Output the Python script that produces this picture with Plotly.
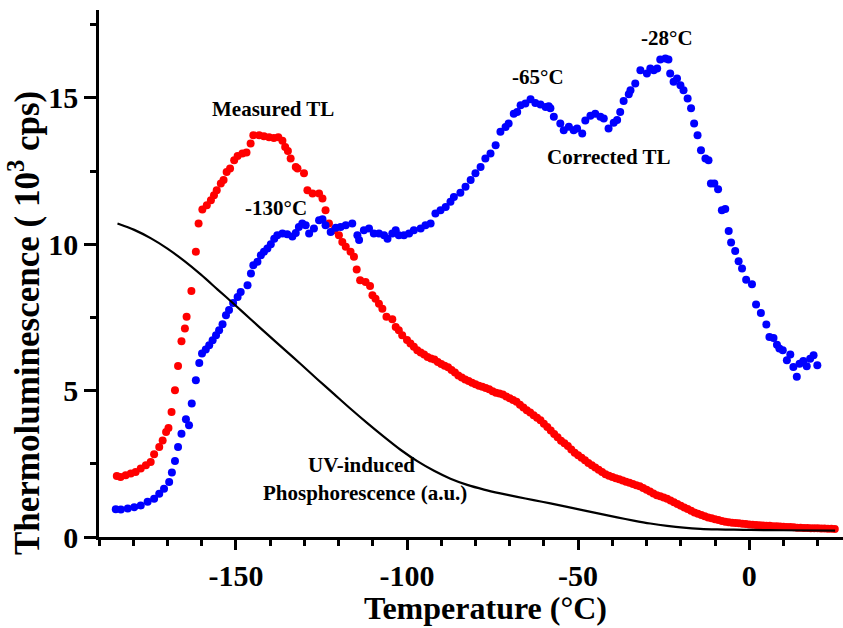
import plotly.graph_objects as go

# Measured thermoluminescence glow curve (10^3 cps) vs temperature (deg C)
MEASURED_T = [
    -184.8, -183.7, -182.2, -180.7, -179.3, -177.8, -176.3, -174.9, -173.9, -172.4,
    -171.4, -170.4, -169.7, -168.8, -167.8, -166.9, -165.9, -164.9, -164.4, -163.0,
    -161.7, -160.9, -159.8, -158.5, -157.3, -156.4, -155.6, -154.4, -153.6, -152.7,
    -151.7, -150.5, -149.5, -148.1, -146.9, -145.7, -144.9, -143.2, -141.8, -140.3,
    -138.9, -137.6, -136.4, -135.6, -134.8, -134.0, -132.5, -132.0, -130.1, -129.1,
    -127.6, -125.7, -124.7, -123.8, -122.8, -121.3, -119.9, -118.9, -117.9, -116.5,
    -115.5, -114.7, -113.7, -112.1, -110.8, -110.1, -109.2, -108.2, -107.2, -106.0,
    -104.3, -103.3, -102.4, -101.4,
    -100, -99, -98, -97, -96, -95, -94, -93, -92, -91, -90, -89, -88, -87, -86, -85,
    -84, -83, -82, -81, -80, -79, -78, -77, -76, -75, -74, -73, -72, -71, -70, -69,
    -68, -67, -66, -65, -64, -63, -62, -61, -60, -59, -58, -57, -56, -55, -54, -53,
    -52, -51, -50, -49, -48, -47, -46, -45, -44, -43, -42, -41, -40, -39, -38, -37,
    -36, -35, -34, -33, -32, -31, -30, -29, -28, -27, -26, -25, -24, -23, -22, -21,
    -20, -19, -18, -17, -16, -15, -14, -13, -12, -11, -10, -9, -8, -7, -6, -5,
    -4, -3, -2, -1, 0, 1, 2, 3, 4, 5, 6, 7, 8, 9, 10, 11,
    12, 13, 14, 15, 16, 17, 18, 19, 20, 21, 22, 23, 24, 25,
]
MEASURED_TL = [
    2.08, 2.05, 2.11, 2.17, 2.22, 2.34, 2.45, 2.56, 2.83, 3.07,
    3.30, 3.59, 3.72, 4.27, 5.01, 5.84, 6.69, 7.12, 7.52, 8.40,
    9.74, 10.71, 11.19, 11.33, 11.50, 11.67, 11.84, 12.07, 12.19, 12.47,
    12.59, 12.87, 13.01, 13.10, 13.13, 13.44, 13.72, 13.72, 13.69, 13.65,
    13.63, 13.65, 13.53, 13.32, 13.18, 12.93, 12.64, 12.59, 12.42, 11.84,
    11.73, 11.73, 11.56, 11.16, 10.71, 10.48, 10.31, 10.08, 9.91, 9.74,
    9.57, 9.14, 8.77, 8.71, 8.57, 8.26, 8.14, 7.97, 7.80, 7.52,
    7.44, 7.17, 7.06, 6.89,
    6.73, 6.61, 6.50, 6.38, 6.30, 6.23, 6.15, 6.10, 6.06, 5.98, 5.91, 5.85, 5.80, 5.70, 5.62, 5.52,
    5.45, 5.38, 5.33, 5.27, 5.22, 5.17, 5.13, 5.09, 5.05, 4.98, 4.93, 4.90, 4.87, 4.80, 4.74, 4.68,
    4.62, 4.52, 4.42, 4.33, 4.25, 4.16, 4.07, 3.99, 3.87, 3.76, 3.64, 3.52, 3.41, 3.29, 3.20, 3.11,
    2.99, 2.88, 2.79, 2.71, 2.62, 2.53, 2.45, 2.37, 2.30, 2.22, 2.14, 2.09, 2.05, 2.01, 1.97, 1.93,
    1.89, 1.85, 1.81, 1.77, 1.73, 1.67, 1.61, 1.55, 1.49, 1.43, 1.39, 1.35, 1.31, 1.25, 1.19, 1.13,
    1.07, 1.01, 0.96, 0.90, 0.84, 0.79, 0.75, 0.71, 0.67, 0.64, 0.61, 0.58, 0.55, 0.52, 0.50, 0.49,
    0.48, 0.47, 0.45, 0.44, 0.43, 0.42, 0.41, 0.40, 0.39, 0.38, 0.38, 0.37, 0.37, 0.36, 0.35, 0.34,
    0.34, 0.33, 0.32, 0.32, 0.31, 0.31, 0.30, 0.30, 0.30, 0.29, 0.29, 0.28, 0.28, 0.27,
]

# Glow curve after correction for the phosphorescence background
CORRECTED_T = [
    -185.1, -183.6, -181.6, -179.7, -177.8, -175.8, -173.9, -172.4, -171.0, -169.5,
    -168.7, -167.8, -166.9, -165.9, -164.6, -163.7, -162.9, -161.7, -160.7, -159.9,
    -158.8, -157.8, -156.8, -155.8, -154.9, -153.9, -152.9, -152.0, -150.8, -149.5,
    -148.6, -146.6, -145.6, -144.9, -143.7, -142.7, -141.8, -140.8, -139.8, -138.8,
    -137.9, -136.4, -135.0, -133.5, -132.5, -131.6, -130.6, -129.6, -128.6, -127.2,
    -125.7, -124.7, -123.8, -122.3, -120.8, -119.4, -117.9, -116.0, -114.5, -114.0,
    -112.6, -111.1, -109.7, -108.2, -106.7, -105.7, -104.3, -103.3, -102.4, -100.9,
    -99.4, -98.0, -96.0, -94.6, -93.1, -91.7, -90.2, -88.7, -87.3, -86.3,
    -84.4, -82.9, -81.4, -80.0, -78.5, -77.1, -75.6, -74.1, -72.7, -71.2,
    -70.3, -68.8, -67.8, -66.8, -65.4, -63.9, -62.5, -61.0, -59.5, -58.6,
    -58.1, -57.1, -55.2, -54.2, -52.7, -51.3, -50.3, -48.8, -47.9, -46.4,
    -45.0, -43.5, -42.5, -41.1, -39.6, -38.6, -37.7, -36.7, -35.2, -34.7,
    -33.3, -31.8, -29.9, -28.9, -27.9, -26.9, -26.0, -24.5, -23.6, -23.1,
    -22.1, -21.1, -20.1, -19.2, -18.0, -17.0, -16.1, -15.1, -14.1, -12.8,
    -11.9, -11.2, -10.2, -9.1, -8.0, -7.0, -6.0, -5.3, -4.1, -3.1,
    -2.1, -0.9, 0.8, 2.0, 3.4, 5.0, 5.9, 7.1, 8.1, 8.8,
    9.8, 11.0, 12.0, 12.9, 13.9, 14.7, 15.8, 16.8, 17.8, 18.8,
    19.9,
]
CORRECTED_TL = [
    0.95, 0.94, 0.97, 1.02, 1.08, 1.20, 1.31, 1.48, 1.65, 1.88,
    2.20, 2.60, 3.07, 3.53, 4.02, 3.82, 4.56, 5.35, 5.94, 6.27,
    6.40, 6.55, 6.72, 6.89, 7.06, 7.27, 7.57, 7.75, 7.99, 8.20,
    8.37, 8.60, 9.00, 9.28, 9.40, 9.62, 9.74, 9.85, 10.00, 10.19,
    10.31, 10.37, 10.34, 10.26, 10.38, 10.59, 10.71, 10.65, 10.37, 10.54,
    10.82, 10.85, 10.65, 10.42, 10.56, 10.59, 10.65, 10.71, 10.31, 10.14,
    10.48, 10.54, 10.37, 10.37, 10.31, 10.19, 10.37, 10.48, 10.31, 10.31,
    10.37, 10.48, 10.54, 10.65, 10.71, 11.05, 11.16, 11.27, 11.45, 11.61,
    11.76, 11.96, 12.19, 12.42, 12.64, 12.93, 13.10, 13.38, 13.84, 14.00,
    14.12, 14.46, 14.52, 14.75, 14.81, 14.95, 14.82, 14.77, 14.69, 14.71,
    14.64, 14.35, 14.12, 13.89, 14.01, 13.89, 13.95, 13.78, 14.23, 14.39,
    14.46, 14.35, 14.29, 13.95, 14.15, 14.24, 14.52, 14.89, 15.12, 15.26,
    15.49, 15.94, 15.83, 16.00, 15.94, 16.00, 16.31, 16.34, 16.31, 15.83,
    15.55, 15.66, 15.43, 15.26, 14.98, 14.64, 14.12, 13.72, 13.21, 12.93,
    12.87, 12.07, 12.07, 11.88, 11.16, 11.20, 10.45, 10.06, 9.77, 9.42,
    9.17, 8.79, 8.63, 7.94, 7.65, 7.26, 6.83, 6.80, 6.57, 6.44,
    6.38, 6.04, 6.23, 5.81, 5.47, 5.92, 6.01, 5.83, 6.09, 6.21,
    5.87,
]

# UV-induced phosphorescence (arbitrary units)
PHOS_T = [
    -184.6, -179.7, -174.8, -170.0, -165.1, -160.2, -155.4, -150.5, -145.6, -140.7,
    -135.8, -131.0, -126.2, -121.3, -116.5, -111.6, -106.7, -101.9, -97.0, -92.1,
    -87.3, -82.4, -77.5, -72.7, -67.8, -63.0, -58.1, -53.2, -48.4, -43.5,
    -38.6, -33.8, -28.9, -24.0, -19.2, -14.3, -9.4, -4.5, 0.3, 10.0,
    25.1,
]
PHOS_AU = [
    10.71, 10.49, 10.20, 9.85, 9.43, 8.96, 8.46, 7.95, 7.43, 6.91,
    6.40, 5.90, 5.39, 4.88, 4.38, 3.89, 3.42, 2.98, 2.59, 2.26,
    1.99, 1.78, 1.62, 1.49, 1.37, 1.26, 1.15, 1.03, 0.91, 0.79,
    0.67, 0.56, 0.46, 0.38, 0.32, 0.28, 0.26, 0.25, 0.24, 0.23,
    0.22,
]

X_TICKS = [-150, -100, -50, 0]
X_TICK_TEXT = ["-150", "-100", "-50", "0"]
Y_TICKS = [0, 5, 10, 15]
Y_TICK_TEXT = ["0", "5", "10", "15"]

assert len(MEASURED_T) == len(MEASURED_TL)
assert len(CORRECTED_T) == len(CORRECTED_TL)
assert len(PHOS_T) == len(PHOS_AU)

FONT = "Liberation Serif"
LW = 2.5

fig = go.Figure()
fig.add_trace(go.Scatter(
    x=MEASURED_T, y=MEASURED_TL, mode="markers", name="Measured TL",
    marker=dict(color="#ff0000", size=8, line=dict(width=0)),
))
fig.add_trace(go.Scatter(
    x=CORRECTED_T, y=CORRECTED_TL, mode="markers", name="Corrected TL",
    marker=dict(color="#0000ff", size=8, line=dict(width=0)),
))
fig.add_trace(go.Scatter(
    x=PHOS_T, y=PHOS_AU, mode="lines", name="UV-induced phosphorescence",
    line=dict(color="black", width=2.2, shape="spline", smoothing=0.8),
))

tick_font = dict(family=FONT, size=30, color="black", weight="bold")

fig.update_layout(
    width=843, height=628,
    margin=dict(l=99, r=0, t=10, b=91),
    paper_bgcolor="white", plot_bgcolor="white",
    showlegend=False,
    xaxis=dict(
        range=[-190, 27.4], showgrid=False, zeroline=False,
        showline=True, linecolor="black", linewidth=LW,
        tickmode="array", tickvals=X_TICKS, ticktext=X_TICK_TEXT,
        ticks="outside", ticklen=10, tickwidth=LW, tickcolor="black",
        tickfont=tick_font,
        minor=dict(tickmode="linear", tick0=0, dtick=10, ticks="outside",
                   ticklen=6, tickwidth=LW, tickcolor="black", showgrid=False),
    ),
    xaxis2=dict(
        matches="x", overlaying="x", side="top", showgrid=False, zeroline=False,
        showline=True, linecolor="black", linewidth=LW,
        tickmode="array", tickvals=X_TICKS, showticklabels=False,
        ticks="inside", ticklen=10, tickwidth=LW, tickcolor="black",
        minor=dict(tickmode="linear", tick0=0, dtick=10, ticks="inside",
                   ticklen=6, tickwidth=LW, tickcolor="black", showgrid=False),
    ),
    yaxis=dict(
        range=[0, 18], showgrid=False, zeroline=False,
        showline=True, linecolor="black", linewidth=LW,
        tickmode="array", tickvals=Y_TICKS, ticktext=Y_TICK_TEXT,
        ticks="outside", ticklen=12, tickwidth=LW, tickcolor="black",
        tickfont=tick_font,
        minor=dict(tickmode="linear", tick0=0, dtick=2.5, ticks="outside",
                   ticklen=6, tickwidth=LW, tickcolor="black", showgrid=False),
    ),
)

label_font = dict(family=FONT, size=21, color="black", weight="bold")
labels = [
    ("Measured TL", -139.3, 14.62),
    ("-130°C", -138.2, 11.24),
    ("-65°C", -61.6, 15.71),
    ("Corrected TL", -41.2, 12.98),
    ("-28°C", -24.0, 17.04),
    ("UV-induced", -113.4, 2.46),
    ("Phosphorescence (a.u.)", -112.3, 1.50),
]
for text, tx, ty in labels:
    fig.add_annotation(x=tx, y=ty, xref="x", yref="y", text=text, showarrow=False,
                       xanchor="center", yanchor="middle", font=label_font)

# axis titles
fig.add_annotation(x=0.5195, y=-0.1347, xref="paper", yref="paper",
                   text="Temperature (°C)", showarrow=False,
                   xanchor="center", yanchor="middle",
                   font=dict(family=FONT, size=32, color="black", weight="bold"))
fig.add_annotation(x=-0.1008, y=0.406, xref="paper", yref="paper",
                   text="Thermoluminescence ( 10<sup>3</sup> cps)", showarrow=False,
                   textangle=-90, xanchor="center", yanchor="middle",
                   font=dict(family=FONT, size=35, color="black", weight="bold"))

fig.write_html("out.html")
